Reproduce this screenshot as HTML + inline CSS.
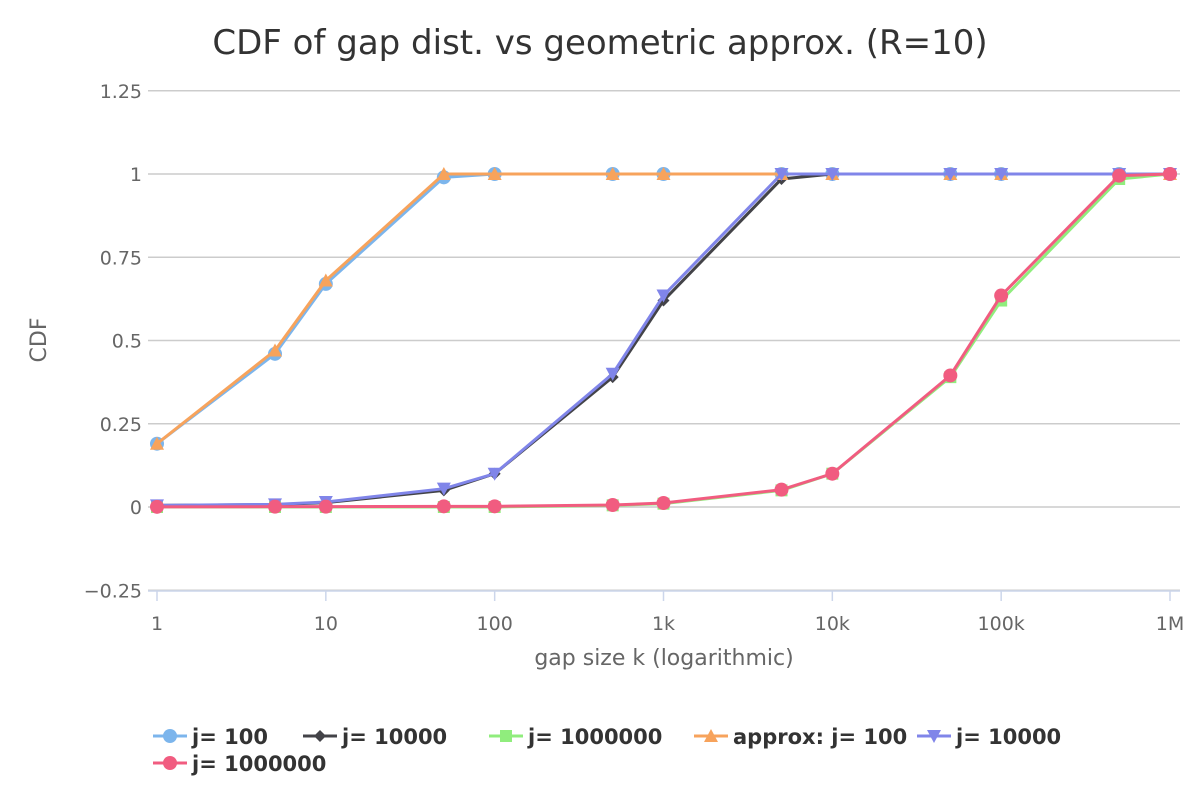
<!DOCTYPE html>
<html><head><meta charset="utf-8"><style>
body{margin:0;background:#fff;font-family:"DejaVu Sans","Liberation Sans",sans-serif}
svg text{font-family:"DejaVu Sans","Liberation Sans",sans-serif}
</style></head><body>
<svg id="chart" width="1200" height="800" xmlns="http://www.w3.org/2000/svg">
<text x="600" y="54" text-anchor="middle" font-size="34" fill="#333">CDF of gap dist. vs geometric approx. (R=10)</text>
<g id="grid"></g><g id="axes"></g><g id="series"></g><g id="legend"></g>
</svg>
<script>
const xValues=[1,5,10,50,100,500,1000,5000,10000,50000,100000,500000,1000000];
const s_j100=[0.19,0.46,0.67,0.99,1,1,1,1,1,1,1,1,1];
const s_j10000=[0.005,0.007,0.013,0.05,0.1,0.39,0.62,0.985,1,1,1,1,1];
const s_j1e6=[0,0,0,0,0,0.005,0.01,0.05,0.1,0.39,0.62,0.985,1];
const s_a100=[0.19,0.47,0.68,1,1,1,1,1,1,1,1,1,1];
const s_a10000=[0.005,0.008,0.015,0.055,0.1,0.4,0.635,1,1,1,1,1,1];
const s_a1e6=[0.0005,0.001,0.001,0.002,0.002,0.006,0.012,0.052,0.1,0.395,0.635,0.995,1];
const yTicks=[-0.25,0,0.25,0.5,0.75,1,1.25];
const yTickLabels=["−0.25","0","0.25","0.5","0.75","1","1.25"];
const xTicks=[1,10,100,1000,10000,100000,1000000];
const xTickLabels=["1","10","100","1k","10k","100k","1M"];
const NS="http://www.w3.org/2000/svg";
const X0=157,X1=1170,Y0=507,Y1=174;
const xs=v=>X0+(Math.log10(v)/6)*(X1-X0);
const ys=v=>Y0-(v)*(Y0-Y1);
function mk(tag,attrs,parent){const e=document.createElementNS(NS,tag);for(const k in attrs)e.setAttribute(k,attrs[k]);parent.appendChild(e);return e;}
const grid=document.getElementById('grid'),axes=document.getElementById('axes'),ser=document.getElementById('series'),leg=document.getElementById('legend');
yTicks.forEach((t,i)=>{
 const l=mk('line',{x1:148,x2:1180,y1:ys(t),y2:ys(t),stroke:'#ccc','stroke-width':1.5},grid);
 
 
 const tx=mk('text',{x:142,y:ys(t)+7,'text-anchor':'end','font-size':19,fill:'#666'},axes);
 tx.textContent=yTickLabels[i];
 
 
});
const ax=mk('line',{x1:148,x2:1180,y1:591,y2:591,stroke:'#ccd6eb','stroke-width':1.5},axes);


xTicks.forEach((t,i)=>{
 const tk=mk('line',{x1:xs(t),x2:xs(t),y1:591,y2:601,stroke:'#ccd6eb','stroke-width':1.5},axes);
 
 
 const tx=mk('text',{x:xs(t),y:630,'text-anchor':'middle','font-size':19,fill:'#666'},axes);
 tx.textContent=xTickLabels[i];
 
 
});
const xt=mk('text',{x:664,y:665,'text-anchor':'middle','font-size':22,fill:'#666'},axes);
xt.textContent='gap size k (logarithmic)';


const yt=mk('text',{x:46,y:340,'text-anchor':'middle','font-size':22,fill:'#666',transform:'rotate(-90 46 340)'},axes);
yt.textContent='CDF';


function marker(shape,x,y,c,p,r){
 if(shape==='circle')return mk('circle',{cx:x,cy:y,r:r||7,fill:c},p);
 if(shape==='diamond')return mk('path',{d:`M${x} ${y-6}L${x+6} ${y}L${x} ${y+6}L${x-6} ${y}Z`,fill:c},p);
 if(shape==='square')return mk('rect',{x:x-6,y:y-6,width:12,height:12,fill:c},p);
 if(shape==='tri')return mk('path',{d:`M${x} ${y-7}L${x+7} ${y+6}L${x-7} ${y+6}Z`,fill:c},p);
 if(shape==='tridown')return mk('path',{d:`M${x} ${y+7}L${x+7} ${y-6}L${x-7} ${y-6}Z`,fill:c},p);
}
const series=[
 {name:'j= 100',data:s_j100,c:'#7cb5ec',m:'circle',id:'j100'},
 {name:'j= 10000',data:s_j10000,c:'#434348',m:'diamond',id:'j10000'},
 {name:'j= 1000000',data:s_j1e6,c:'#90ed7d',m:'square',id:'j1000000'},
 {name:'approx: j= 100',data:s_a100,c:'#f7a35c',m:'tri',id:'approx-j100'},
 {name:'j= 10000',data:s_a10000,c:'#8085e9',m:'tridown',id:'approx-j10000'},
 {name:'j= 1000000',data:s_a1e6,c:'#f15c80',m:'circle',id:'approx-j1000000'}
];
series.forEach(s=>{
 const g=mk('g',{},ser);
 
 
 const pts=s.data.map((v,i)=>xs(xValues[i])+','+ys(v)).join(' ');
 const pl=mk('polyline',{points:pts,fill:'none',stroke:s.c,'stroke-width':3},g);
 
 
 s.data.forEach((v,i)=>{
  const m=marker(s.m,xs(xValues[i]),ys(v),s.c,g);
  
  
 });
});
const legPos=[[170,736],[320,736],[506,736],[711,736],[934,736],[170,763]];
series.forEach((s,i)=>{
 const [x,y]=legPos[i];
 const g=mk('g',{},leg);
 
 
 mk('line',{x1:x-17,x2:x+17,y1:y,y2:y,stroke:s.c,'stroke-width':3},g);
 marker(s.m,x,y,s.c,g);
 const t=mk('text',{x:x+22,y:y+8,'font-size':21,'font-weight':'bold',fill:'#333'},g);
 t.textContent=s.name;
});
</script>
</body></html>
